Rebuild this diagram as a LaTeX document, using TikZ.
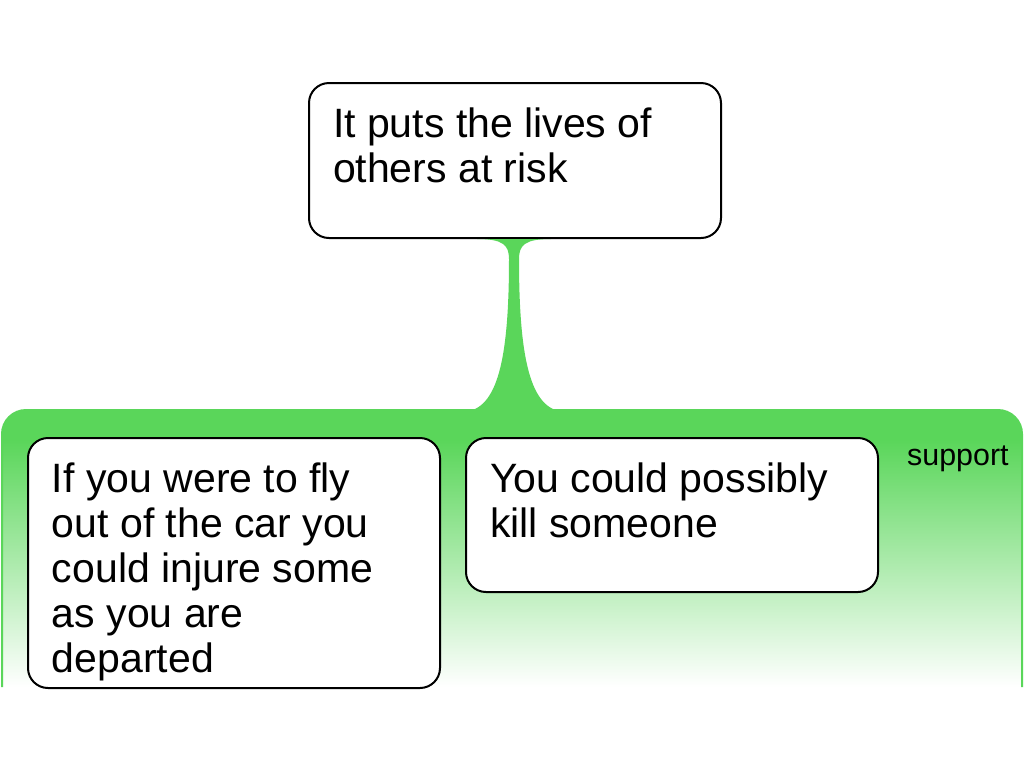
\documentclass[tikz,border=0pt]{standalone}
\usepackage{fontspec}
\setmainfont{Liberation Sans}
\definecolor{grpgreen}{RGB}{90,214,90}
\tikzset{
	argbox/.style={draw, fill=white, line width=1pt, rounded corners=10pt, inner xsep=12pt, inner ysep=0pt, anchor=north west, font=\fontsize{20.5pt}{22.5pt}\selectfont},
	grplabel/.style={anchor=base east, inner sep=0pt, font=\fontsize{15.2pt}{18pt}\selectfont}
}
\newcommand{\argtext}[2]{\parbox[t][#1][t]{182pt}{\raggedright\rule{0pt}{27pt}#2}}
\begin{document}
\begin{tikzpicture}[x=0.5pt,y=-0.5pt]
	\useasboundingbox (0,0) rectangle (1024,768);
	% support group
	\fill[grpgreen, rounded corners=12pt] (2,410) rectangle (1022,470);
	\shade[top color=grpgreen, bottom color=white] (2,440) rectangle (1022,687);
	\draw[grpgreen, line width=1pt, rounded corners=12pt] (2,687) |- (512,410) -| (1022,687);
	\coordinate (grp) at (513,410);
	\node[grplabel] (lbl) at (1009,465) {support};
	% claims
	\node[argbox] (top) at (308,82) {\argtext{77.5pt}{It puts the lives of\\ others at risk}};
	\node[argbox] (left) at (27,437) {\argtext{125pt}{If you were to fly\\ out of the car you\\ could injure some\\ as you are\\ departed}};
	\node[argbox] (right) at (465,437) {\argtext{77pt}{You could possibly\\ kill someone}};
	% link
	\begin{scope}[shift={(top.south)}]
		\fill[grpgreen] (-38,0) -- (36,0) .. controls (10,0) and (4,6) .. (4,20)
			.. controls (4,130) and (18,173) .. (52,173) -- (52,176) -- (-54,176) -- (-54,173)
			.. controls (-20,173) and (-6,130) .. (-6,20) .. controls (-6,6) and (-12,0) .. (-38,0) -- cycle;
	\end{scope}
\end{tikzpicture}
\end{document}
